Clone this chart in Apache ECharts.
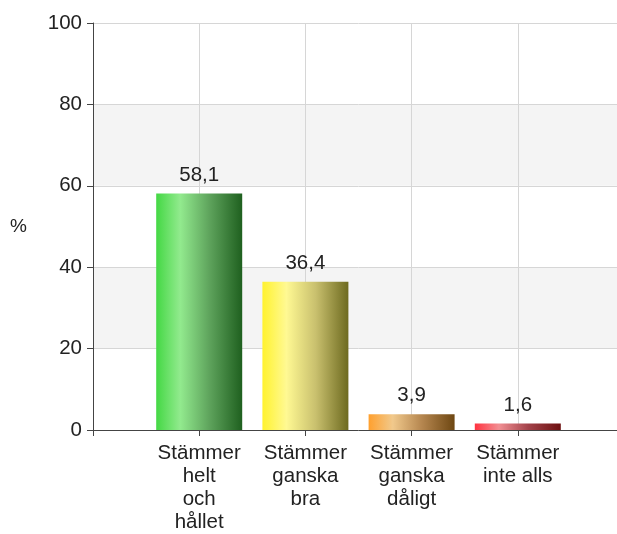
<!DOCTYPE html>
<html>
<head>
<meta charset="utf-8">
<script src="https://cdn.jsdelivr.net/npm/echarts@6/dist/echarts.min.js"></script>
<style>
html,body{margin:0;padding:0;background:#fff;overflow:hidden;}
#chart{width:627px;height:534px;}
</style>
</head>
<body>
<div id="chart"></div>
<script>
// categories (first and last slot left empty, as in the original layout)
var categories = ['', 'Stämmer\nhelt\noch\nhållet', 'Stämmer\nganska\nbra', 'Stämmer\nganska\ndåligt', 'Stämmer\ninte alls', ''];
var values = [null, 58.1, 36.4, 3.9, 1.6, null];
var yTicks = [0, 20, 40, 60, 80, 100];

// gradient stops per bar: left, highlight, mid, right
var barColors = [
    null,
    ['#44d844', '#92ea8e', '#5ea35c', '#1f601f'],
    ['#fff22e', '#fff993', '#c9c06e', '#6d6a1f'],
    ['#ffa02e', '#f1c98c', '#b5864f', '#6e4712'],
    ['#ff3340', '#f28f93', '#a3424a', '#6d1010'],
    null
];

function grad(c) {
    return new echarts.graphic.LinearGradient(0, 0, 1, 0, [
        {offset: 0, color: c[0]},
        {offset: 0.28, color: c[1]},
        {offset: 0.62, color: c[2]},
        {offset: 1, color: c[3]}
    ]);
}

var myChart = echarts.init(document.getElementById('chart'));
var font = 'Liberation Sans, Arial, sans-serif';
var fs = 20.5;

// the chart is 10px wider than the window so the last (empty) slot falls off the edge
var option = {
    animation: false,
    grid: {left: 93, top: 23, bottom: 104, right: 0, containLabel: false},
    xAxis: {
        type: 'category',
        data: categories,
        boundaryGap: false,
        axisLine: {show: true, lineStyle: {color: '#444', width: 1}},
        axisTick: {show: true, length: 6, lineStyle: {color: '#444'}},
        axisLabel: {
            interval: 0,
            color: '#222',
            fontFamily: font,
            fontSize: fs,
            lineHeight: 23,
            margin: 12,
            align: 'center'
        },
        splitLine: {show: true, lineStyle: {color: '#d6d6d6', width: 1}}
    },
    yAxis: {
        type: 'value',
        min: yTicks[0],
        max: yTicks[yTicks.length - 1],
        interval: 20,
        name: '%',
        nameLocation: 'middle',
        nameRotate: 0,
        nameGap: 66,
        nameTextStyle: {color: '#222', fontFamily: font, fontSize: 19},
        axisLine: {show: true, lineStyle: {color: '#444', width: 1}},
        axisTick: {show: true, length: 6, lineStyle: {color: '#444'}},
        axisLabel: {color: '#222', fontFamily: font, fontSize: fs, margin: 11},
        splitLine: {show: true, lineStyle: {color: '#d6d6d6', width: 1}},
        splitArea: {show: true, areaStyle: {color: ['#ffffff', '#f4f4f4']}}
    },
    series: [{
        type: 'bar',
        barWidth: 86,
        data: values.map(function(v, i) {
            if (v === null) return null;
            return {value: v, itemStyle: {color: grad(barColors[i])}};
        }),
        label: {
            show: true,
            position: 'top',
            distance: 8,
            color: '#222',
            fontFamily: font,
            fontSize: fs,
            formatter: function(p) {
                return String(p.value).replace('.', ',');
            }
        }
    }]
};
myChart.setOption(option);
</script>
</body>
</html>
